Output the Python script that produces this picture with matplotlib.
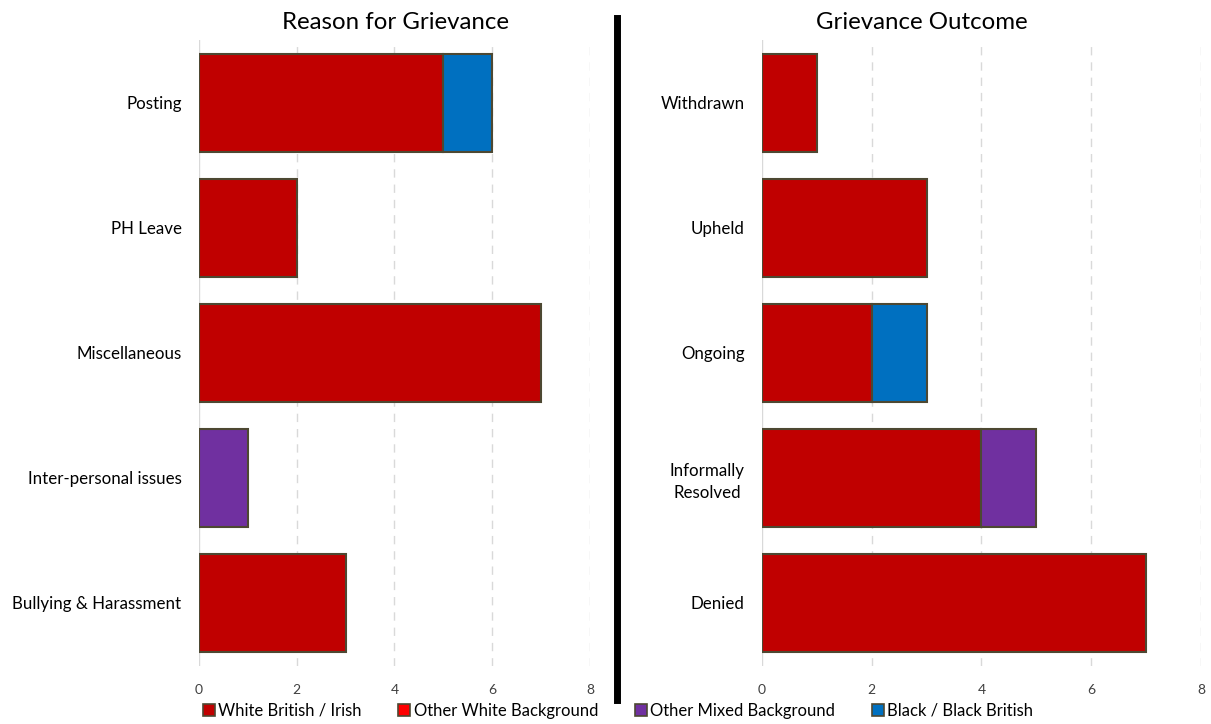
import matplotlib
matplotlib.use("Agg")
import matplotlib.pyplot as plt
from matplotlib.lines import Line2D
from matplotlib.patches import Patch
import numpy as np

plt.rcParams['font.family'] = ['Lato', 'DejaVu Sans']

# Series labels and colours
series = ["White British / Irish", "Other White Background",
          "Other Mixed Background", "Black / Black British"]
colors = ["#C00000", "#FF0000", "#7030A0", "#0070C0"]
edge = "#4d4832"

# Reason for Grievance (bottom to top)
reason_cats = ["Bullying & Harassment", "Inter-personal issues",
               "Miscellaneous", "PH Leave", "Posting"]
reason_white_british = [3, 0, 7, 2, 5]
reason_other_white = [0, 0, 0, 0, 0]
reason_other_mixed = [0, 1, 0, 0, 0]
reason_black = [0, 0, 0, 0, 1]

# Grievance Outcome (bottom to top)
outcome_cats = ["Denied", "Informally\nResolved", "Ongoing", "Upheld", "Withdrawn"]
outcome_white_british = [7, 4, 2, 3, 1]
outcome_other_white = [0, 0, 0, 0, 0]
outcome_other_mixed = [0, 1, 0, 0, 0]
outcome_black = [0, 0, 1, 0, 0]

x_ticks = [0, 2, 4, 6, 8]

fig = plt.figure(figsize=(12.11, 7.24), dpi=100)
ax1 = fig.add_axes([0.1643, 0.0808, 0.3229, 0.8633])
ax2 = fig.add_axes([0.6292, 0.0808, 0.3625, 0.8633])


def draw(ax, cats, data):
    y = np.arange(len(cats))
    left = np.zeros(len(cats))
    for vals, c in zip(data, colors):
        vals = np.array(vals, dtype=float)
        mask = vals > 0
        ax.barh(y[mask], vals[mask], left=left[mask], height=0.78,
                color=c, edgecolor=edge, linewidth=1.5, zorder=3)
        left += vals
    ax.set_ylim(-0.5, len(cats) - 0.5)
    ax.set_xlim(0, 8)
    ax.set_yticks(y)
    ax.set_yticklabels(cats, fontsize=12.2, color="#000000")
    ax.set_xticks(x_ticks)
    ax.set_xticklabels([str(t) for t in x_ticks], fontsize=10, color="#404040")
    ax.tick_params(length=0, axis='both')
    ax.tick_params(axis='y', pad=12.5)
    ax.tick_params(axis='x', pad=13)
    for s in ax.spines.values():
        s.set_visible(False)
    for t in x_ticks:
        if t == 0:
            ax.axvline(t, color="#d9d9d9", lw=1, zorder=1)
        else:
            ax.axvline(t, color="#d9d9d9", lw=1, ls=(0, (6, 5)), zorder=1)


draw(ax1, reason_cats, [reason_white_british, reason_other_white,
                        reason_other_mixed, reason_black])
draw(ax2, outcome_cats, [outcome_white_british, outcome_other_white,
                         outcome_other_mixed, outcome_black])
for lab in ax2.get_yticklabels():
    lab.set_multialignment('center')
    lab.set_linespacing(1.45)

fig.text(0.3270, 0.9600, "Reason for Grievance", ha='center', va='baseline', fontsize=17.3)
fig.text(0.7614, 0.9600, "Grievance Outcome", ha='center', va='baseline', fontsize=17.3)

# Vertical divider between the two panels
fig.add_artist(Line2D([0.5095, 0.5095], [1 - 700 / 724, 1 - 18 / 724],
                      transform=fig.transFigure, color="black", lw=5))

handles = [Patch(facecolor=c, edgecolor=edge, linewidth=1.2) for c in colors]
fig.legend(handles, series, loc='center', bbox_to_anchor=(0.5103, 0.018), ncol=4,
           frameon=False, fontsize=12, handlelength=0.72, handleheight=0.72,
           handletextpad=0.2, columnspacing=2.2, borderpad=0)

fig.savefig("out.png", dpi=100, facecolor="white")
